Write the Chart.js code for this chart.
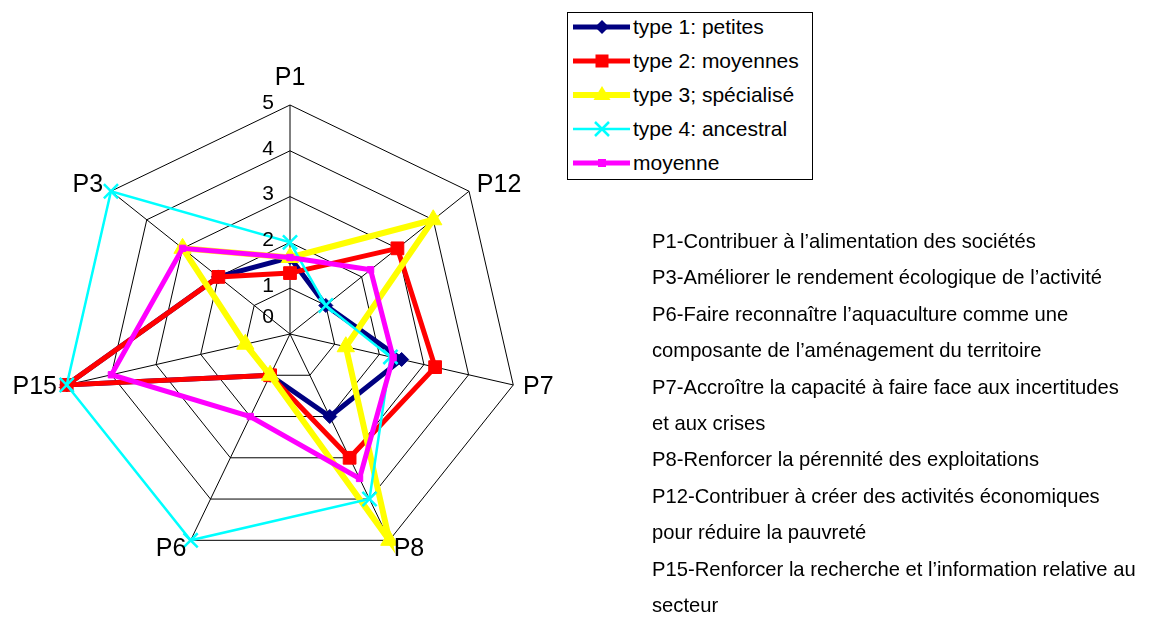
<!DOCTYPE html>
<html lang="fr">
<head>
<meta charset="UTF-8" />
<title>Types d'exploitations - radar</title>
<style>
  body { margin: 0; background: #fff; font-family: "Liberation Sans", Arial, sans-serif; color: #000; }
  #wrap { position: relative; width: 1176px; height: 617px; overflow: hidden; }
  #chart { position: absolute; left: 0; top: 0; }
  #legende { position: absolute; left: 567px; top: 12px; width: 244px; height: 166px; border: 1px solid #000; background: #fff; }
  .item { position: absolute; left: 4px; height: 20px; display: flex; align-items: center; font-size: 21px; white-space: nowrap; }
  .item svg { width: 61px; height: 20px; flex: none; }
  #notes { position: absolute; left: 652px; top: 223px; font-size: 20.2px; line-height: 36.4px; white-space: nowrap; }
</style>
</head>
<body>
<div id="wrap">
  <canvas id="chart" width="1176" height="617"></canvas>
  <div id="legende"></div>
  <div id="notes"></div>
</div>

<script src="https://cdn.jsdelivr.net/npm/chart.js"></script>
<script>
// axes du radar (sens horaire depuis le haut)
const axes = ['P1', 'P12', 'P7', 'P8', 'P6', 'P15', 'P3'];
const seriesNames = ['type 1: petites', 'type 2: moyennes', 'type 3; spécialisé', 'type 4: ancestral', 'moyenne'];

// valeurs
const type1 = [1.67, 1, 2.5, 2, 1, 5, 2];
const type2 = [1.33, 3, 3.25, 3, 1, 5, 2];
const type3 = [1.67, 4, 1.25, 5, 1, 1, 3];
const type4 = [2, 1, 2.25, 4, 5, 5, 5];
const moyenne = [1.67, 2.25, 2.31, 3.5, 2, 4, 3];

const tickValues = [0, 1, 2, 3, 4, 5];

const notes = [
  'P1-Contribuer à l’alimentation des sociétés',
  'P3-Améliorer le rendement écologique de l’activité',
  'P6-Faire reconnaître l’aquaculture comme une',
  'composante de l’aménagement du territoire',
  'P7-Accroître la capacité à faire face aux incertitudes',
  'et aux crises',
  'P8-Renforcer la pérennité des exploitations',
  'P12-Contribuer à créer des activités économiques',
  'pour réduire la pauvreté',
  'P15-Renforcer la recherche et l’information relative au',
  'secteur'
];

// styles des séries
const styles = [
  { color: '#000080', width: 5, point: 'rectRot', radius: 7, pw: 1 },
  { color: '#FF0000', width: 5, point: 'rect', radius: 9, pw: 1 },
  { color: '#FFFF00', width: 6, point: 'triangle', radius: 10, pw: 1 },
  { color: '#00FFFF', width: 2.5, point: 'crossRot', radius: 10, pw: 2.5 },
  { color: '#FF00FF', width: 5, point: 'rect', radius: 4.5, pw: 1 }
];

const values = [type1, type2, type3, type4, moyenne];

const datasets = values.map((v, i) => ({
  label: seriesNames[i],
  data: v,
  borderColor: styles[i].color,
  backgroundColor: styles[i].color,
  borderWidth: styles[i].width,
  pointStyle: styles[i].point,
  pointRadius: styles[i].radius,
  pointBackgroundColor: styles[i].color,
  pointBorderColor: styles[i].color,
  pointBorderWidth: styles[i].pw,
  fill: false,
  tension: 0,
  order: values.length - i // la moyenne passe au-dessus
}));

// graduations et noms des axes
const labelPlugin = {
  id: 'axisText',
  afterDraw(chart) {
    const s = chart.scales.r;
    const ctx = chart.ctx;
    ctx.save();
    ctx.fillStyle = '#000';
    ctx.font = '21px "Liberation Sans", Arial, sans-serif';
    ctx.textAlign = 'right';
    ctx.textBaseline = 'middle';
    tickValues.forEach(v => {
      const d = s.getDistanceFromCenterForValue(v);
      const y = v === 0 ? s.yCenter - 17 : s.yCenter - d - 2;
      ctx.fillText(String(v), s.xCenter - 16, y);
    });

    ctx.font = '25px "Liberation Sans", Arial, sans-serif';
    axes.forEach((lab, i) => {
      const p = s.getPointPosition(i, s.drawingArea + 10);
      let y = p.y;
      if (Math.abs(p.x - s.xCenter) < 5) {
        ctx.textAlign = 'center';
        y -= 17;
      } else {
        ctx.textAlign = p.x > s.xCenter ? 'left' : 'right';
      }
      ctx.fillText(lab, p.x, y);
    });
    ctx.restore();
  }
};

new Chart(document.getElementById('chart'), {
  type: 'radar',
  data: { labels: axes, datasets: datasets },
  options: {
    responsive: false,
    animation: false,
    devicePixelRatio: 1,
    layout: { padding: { left: 61, right: 657, top: 105, bottom: 54 } },
    plugins: {
      legend: { display: false },
      tooltip: { enabled: false }
    },
    scales: {
      r: {
        min: 0,
        max: 5,
        ticks: { display: false, stepSize: 1 },
        pointLabels: { display: false },
        grid: { color: '#000', lineWidth: 1 },
        angleLines: { color: '#000', lineWidth: 1 }
      }
    }
  },
  plugins: [labelPlugin]
});

// légende
function markerSvg(st) {
  const c = st.color;
  let m = '';
  if (st.point === 'rectRot') {
    m = `<polygon points="30,3 37,10 30,17 23,10" fill="${c}"/>`;
  } else if (st.point === 'triangle') {
    m = `<polygon points="30,1 38.5,15 21.5,15" fill="${c}"/>`;
  } else if (st.point === 'crossRot') {
    m = `<path d="M23,3 L37,17 M37,3 L23,17" stroke="${c}" stroke-width="2.5"/>`;
  } else if (st.radius > 6) {
    m = `<rect x="23.5" y="3.5" width="13" height="13" fill="${c}"/>`;
  } else {
    m = `<rect x="26" y="6" width="8" height="8" fill="${c}"/>`;
  }
  return `<svg viewBox="0 0 61 20"><line x1="1" y1="10" x2="58" y2="10" stroke="${c}" stroke-width="${st.width}"/>${m}</svg>`;
}

const leg = document.getElementById('legende');
seriesNames.forEach((name, i) => {
  const row = document.createElement('div');
  row.className = 'item';
  row.style.top = (4 + i * 34) + 'px';
  row.innerHTML = markerSvg(styles[i]) + '<span>' + name + '</span>';
  leg.appendChild(row);
});

const notesDiv = document.getElementById('notes');
notes.forEach(t => {
  const d = document.createElement('div');
  d.textContent = t;
  notesDiv.appendChild(d);
});
</script>
</body>
</html>
